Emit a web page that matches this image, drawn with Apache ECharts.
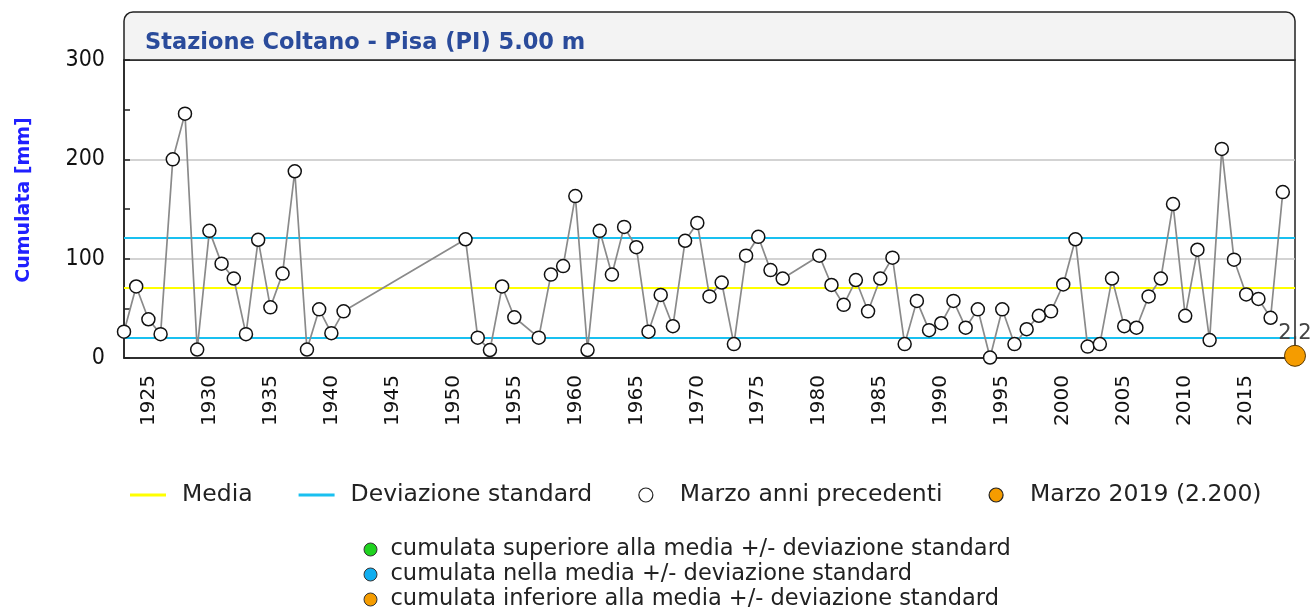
<!DOCTYPE html>
<html>
<head>
<meta charset="utf-8">
<script src="https://cdn.jsdelivr.net/npm/echarts@6/dist/echarts.min.js"></script>
<style>
html,body{margin:0;padding:0;background:#fff;}
#c{width:1314px;height:607px;}
</style>
</head>
<body>
<div id="c"></div>
<script>
// ---- data ----
const firstYear = 1923;
const lastYear = 2019;
const years = [1923,1924,1925,1926,1927,1928,1929,1930,1931,1932,1933,1934,1935,1936,1937,1938,1939,1940,1941,
  1951,1952,1953,1954,1955,1957,1958,1959,1960,1961,1962,1963,1964,1965,1966,1967,1968,1969,1970,1971,1972,1973,1974,1975,1976,1977,
  1980,1981,1982,1983,1984,1985,1986,1987,1988,1989,1990,1991,1992,1993,1994,1995,1996,1997,1998,1999,2000,
  2001,2002,2003,2004,2005,2006,2007,2008,2009,2010,2011,2012,2013,2014,2015,2016,2017,2018];
const values = [26.5,72,39,24,200,246,8.5,128,95,80,24,119,51,85,188,8.5,49,25,47,
  119.5,20.5,8,72,41,20.5,84,92.5,163,8,128,84,132,111.5,26.5,63.5,32,118,136,62,76,14,103,122,88.5,80,
  103,73.5,53.5,78.5,47,80,101,14,57.5,28,35,57.5,30.5,49,0.5,49,14,29,42.5,47,74,
  119.5,11.5,14,80,32,30.5,62,80,155,42.5,109,18,210.5,99,64,59.5,40.5,167];
const currentYear = 2019;
const currentValue = 2.2;
const media = 71;
const devStd = 50.5;
const yTicks = [0,100,200,300];

const categories = [];
for (let y = firstYear; y <= lastYear; y++) categories.push(String(y));
const lookup = {};
years.forEach((y,i)=>{ lookup[y] = values[i]; });
const mainData = categories.map(c => (lookup[+c] !== undefined ? lookup[+c] : null));
const curData = categories.map(c => (+c === currentYear ? currentValue : null));

const FONT = 'DejaVu Sans';
const NARROW = '"Liberation Sans Narrow", "DejaVu Sans Condensed", "DejaVu Sans", sans-serif';
const chart = echarts.init(document.getElementById('c'));
chart.setOption({
  animation: false,
  backgroundColor: '#fff',
  title: {
    text: 'Stazione Coltano - Pisa (PI) 5.00 m',
    left: 140, top: 27, z: 10,
    textStyle: {color: '#2a4b9b', fontSize: 22.5, fontWeight: 'bold', fontFamily: FONT}
  },
  graphic: [
    {type:'rect', z: 0, shape:{x:124, y:12, width:1171, height:48, r:[9,9,0,0]},
     style:{fill:'#f3f3f3', stroke:'#222', lineWidth:1.5}},
    {type:'text', x: 24, y: 200, rotation: Math.PI/2,
     style:{text:'Cumulata [mm]', fill:'#2020ff', font:'bold 19px "DejaVu Sans"', align:'center', verticalAlign:'middle'}}
  ],
  grid: {left:124, right:19, top:60, bottom:249, show:true, borderColor:'#222', borderWidth:1.5, backgroundColor:'#fff'},
  legend: [
    {
      left: 125, top: 478, itemWidth: 36, itemHeight: 14, itemGap: 46,
      textStyle: {fontSize: 23.5, color: '#222', fontFamily: FONT, padding: [0,0,0,11]},
      data: [
        {name:'Media', icon:'path://M0,0h36v3h-36z', itemStyle:{color:'#ffff00', borderWidth:0, opacity:1}},
        {name:'Deviazione standard', icon:'path://M0,0h36v3h-36z', itemStyle:{color:'#19c0f0', borderWidth:0, opacity:1}},
        {name:'Marzo anni precedenti', icon:'circle', itemStyle:{color:'#fff', borderColor:'#222', borderWidth:1.2, opacity:1}},
        {name:'Marzo 2019 (2.200)', icon:'circle', itemStyle:{color:'#f59c00', borderColor:'#222', borderWidth:1.2, opacity:1}}
      ]
    },
    {
      left: 358.5, top: 533, height: 120, orient: 'vertical', itemWidth: 13, itemHeight: 13, itemGap: 2,
      textStyle: {fontSize: 22.5, color: '#222', fontFamily: FONT, padding: [0,0,0,8.5]},
      data: [
        {name:'cumulata superiore alla media +/- deviazione standard', icon:'circle', itemStyle:{color:'#1fd31f', borderColor:'#333', borderWidth:1, opacity:1}},
        {name:'cumulata nella media +/- deviazione standard', icon:'circle', itemStyle:{color:'#10aef0', borderColor:'#333', borderWidth:1, opacity:1}},
        {name:'cumulata inferiore alla media +/- deviazione standard', icon:'circle', itemStyle:{color:'#f59c00', borderColor:'#333', borderWidth:1, opacity:1}}
      ]
    }
  ],
  xAxis: {
    type: 'category', data: categories, boundaryGap: false,
    axisLine: {lineStyle: {color: '#222', width: 1.5}},
    axisTick: {show: false},
    axisLabel: {
      rotate: 90, margin: 17, fontSize: 20, color: '#111', fontFamily: FONT,
      interval: (i, v) => (+v) % 5 === 0
    },
    splitLine: {show: false}
  },
  yAxis: {
    type: 'value', min: 0, max: 300, interval: 50,
    axisLine: {show: true, lineStyle: {color: '#222', width: 1.5}},
    axisTick: {show: true, inside: true, length: 6, lineStyle: {color: '#222', width: 1.5}},
    axisLabel: {fontSize: 23, color: '#111', margin: 19, fontFamily: NARROW,
      formatter: v => (yTicks.indexOf(v) >= 0 ? String(v) : '')},
    splitLine: {show: true, lineStyle: {color: ['transparent','transparent','#c4c4c4','transparent','#c4c4c4','transparent','transparent'], width: 1.5}}
  },
  series: [
    {
      name: 'Media', type: 'line', data: [], color: '#ffff00',
      markLine: {silent: true, symbol: 'none', label: {show: false},
        lineStyle: {color: '#ffff00', width: 2, type: 'solid'},
        data: [{yAxis: media}]}
    },
    {
      name: 'Deviazione standard', type: 'line', data: [], color: '#19c0f0',
      markLine: {silent: true, symbol: 'none', label: {show: false},
        lineStyle: {color: '#19c0f0', width: 2, type: 'solid'},
        data: [{yAxis: media + devStd}, {yAxis: media - devStd}]}
    },
    {
      name: 'Marzo anni precedenti', type: 'line', data: mainData, connectNulls: true,
      showAllSymbol: true, symbol: 'circle', symbolSize: 13, z: 5,
      lineStyle: {color: '#8a8a8a', width: 1.7},
      itemStyle: {color: '#fff', borderColor: '#111', borderWidth: 1.5}
    },
    {
      name: 'Marzo 2019 (2.200)', type: 'scatter', data: curData, symbol: 'circle', symbolSize: 21, z: 6,
      itemStyle: {color: '#f59c00', borderColor: '#5a3800', borderWidth: 1, opacity: 1},
      label: {show: true, position: 'top', distance: 1, fontSize: 21, color: '#444', fontFamily: FONT,
        formatter: p => String(p.value)}
    },
    {name:'cumulata superiore alla media +/- deviazione standard', type:'scatter', data: [], color:'#1fd31f'},
    {name:'cumulata nella media +/- deviazione standard', type:'scatter', data: [], color:'#10aef0'},
    {name:'cumulata inferiore alla media +/- deviazione standard', type:'scatter', data: [], color:'#f59c00'}
  ]
});
</script>
</body>
</html>
